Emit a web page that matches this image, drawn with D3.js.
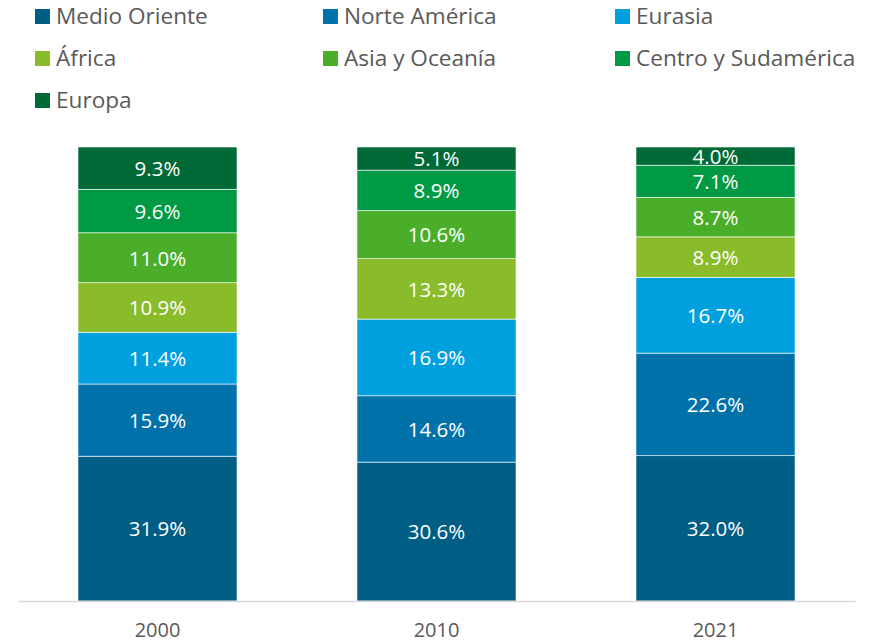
<!DOCTYPE html>
<html>
<head>
<meta charset="utf-8">
<script src="https://cdn.jsdelivr.net/npm/d3@7"></script>
<style>
  body { margin: 0; background: #fff; }
  svg text { font-family: "Open Sans", "Noto Sans", sans-serif; }
</style>
</head>
<body>
<svg id="chart" width="879" height="643"></svg>
<script>
// categories (x axis)
const years = ["2000", "2010", "2021"];

// series, bottom to top
const regions = ["Medio Oriente", "Norte América", "Eurasia", "África", "Asia y Oceanía", "Centro y Sudamérica", "Europa"];
const colors = ["#005d84", "#0072a9", "#00a0df", "#8abb2a", "#4aae2b", "#009a44", "#006a37"];

// shares in percent, one array per region
const medioOriente = [31.9, 30.6, 32.0];
const norteAmerica = [15.9, 14.6, 22.6];
const eurasia = [11.4, 16.9, 16.7];
const africa = [10.9, 13.3, 8.9];
const asiaOceania = [11.0, 10.6, 8.7];
const centroSud = [9.6, 8.9, 7.1];
const europa = [9.3, 5.1, 4.0];

const seriesValues = [medioOriente, norteAmerica, eurasia, africa, asiaOceania, centroSud, europa];

const rows = years.map((y, i) => {
    const r = { year: y };
    regions.forEach((name, k) => { r[name] = seriesValues[k][i]; });
    return r;
});

const svg = d3.select("#chart");
const margin = { left: 18, right: 24, top: 147, bottom: 42 };
const width = 879, height = 643;

const x = d3.scaleBand()
    .domain(years)
    .range([margin.left, width - margin.right])
    .paddingInner(0.43)
    .paddingOuter(0.215);

const y = d3.scaleLinear()
    .domain([0, 100])
    .range([height - margin.bottom, margin.top]);

const color = d3.scaleOrdinal().domain(regions).range(colors);

const stacked = d3.stack().keys(regions)(rows);

// bars
const layer = svg.append("g").selectAll("g")
    .data(stacked)
    .enter().append("g")
    .attr("fill", d => color(d.key));

layer.selectAll("rect")
    .data(d => d)
    .enter().append("rect")
    .attr("x", d => x(d.data.year))
    .attr("width", x.bandwidth())
    .attr("y", d => y(d[1]))
    .attr("height", d => y(d[0]) - y(d[1]))
    .attr("stroke", "#fff")
    .attr("stroke-width", 0.6);

// value labels
layer.selectAll("text")
    .data(d => d.map(v => ({ v: v, key: d.key })))
    .enter().append("text")
    .attr("x", d => x(d.v.data.year) + x.bandwidth() / 2)
    .attr("y", d => (y(d.v[0]) + y(d.v[1])) / 2)
    .attr("dy", "0.38em")
    .attr("text-anchor", "middle")
    .attr("fill", "#fff")
    .style("font-size", "20.5px")
    .text(d => d.v.data[d.key].toFixed(1) + "%");

// x axis
const xAxis = svg.append("g")
    .attr("transform", `translate(0,${height - margin.bottom})`)
    .call(d3.axisBottom(x).tickSize(0).tickPadding(22));
xAxis.select(".domain").attr("stroke", "#d9d9d9").attr("stroke-width", 1.5);
xAxis.selectAll("text")
    .attr("fill", "#595959")
    .style("font-size", "20px")
    .style("font-weight", "normal")
    .style("font-family", "'Liberation Sans Narrow', 'Open Sans', sans-serif");

// legend, 3 columns
const legendCols = [35, 323, 615];
const legendRows = [16, 58, 100];
const legend = svg.append("g").selectAll("g")
    .data(regions)
    .enter().append("g")
    .attr("transform", (d, i) => `translate(${legendCols[i % 3]},${legendRows[Math.floor(i / 3)]})`);

legend.append("rect")
    .attr("x", 0)
    .attr("y", -7)
    .attr("width", 15)
    .attr("height", 15)
    .attr("fill", d => color(d));

legend.append("text")
    .attr("x", 21)
    .attr("y", 0)
    .attr("dy", "0.35em")
    .attr("fill", "#595959")
    .style("font-size", "22.6px")
    .text(d => d);
</script>
</body>
</html>
